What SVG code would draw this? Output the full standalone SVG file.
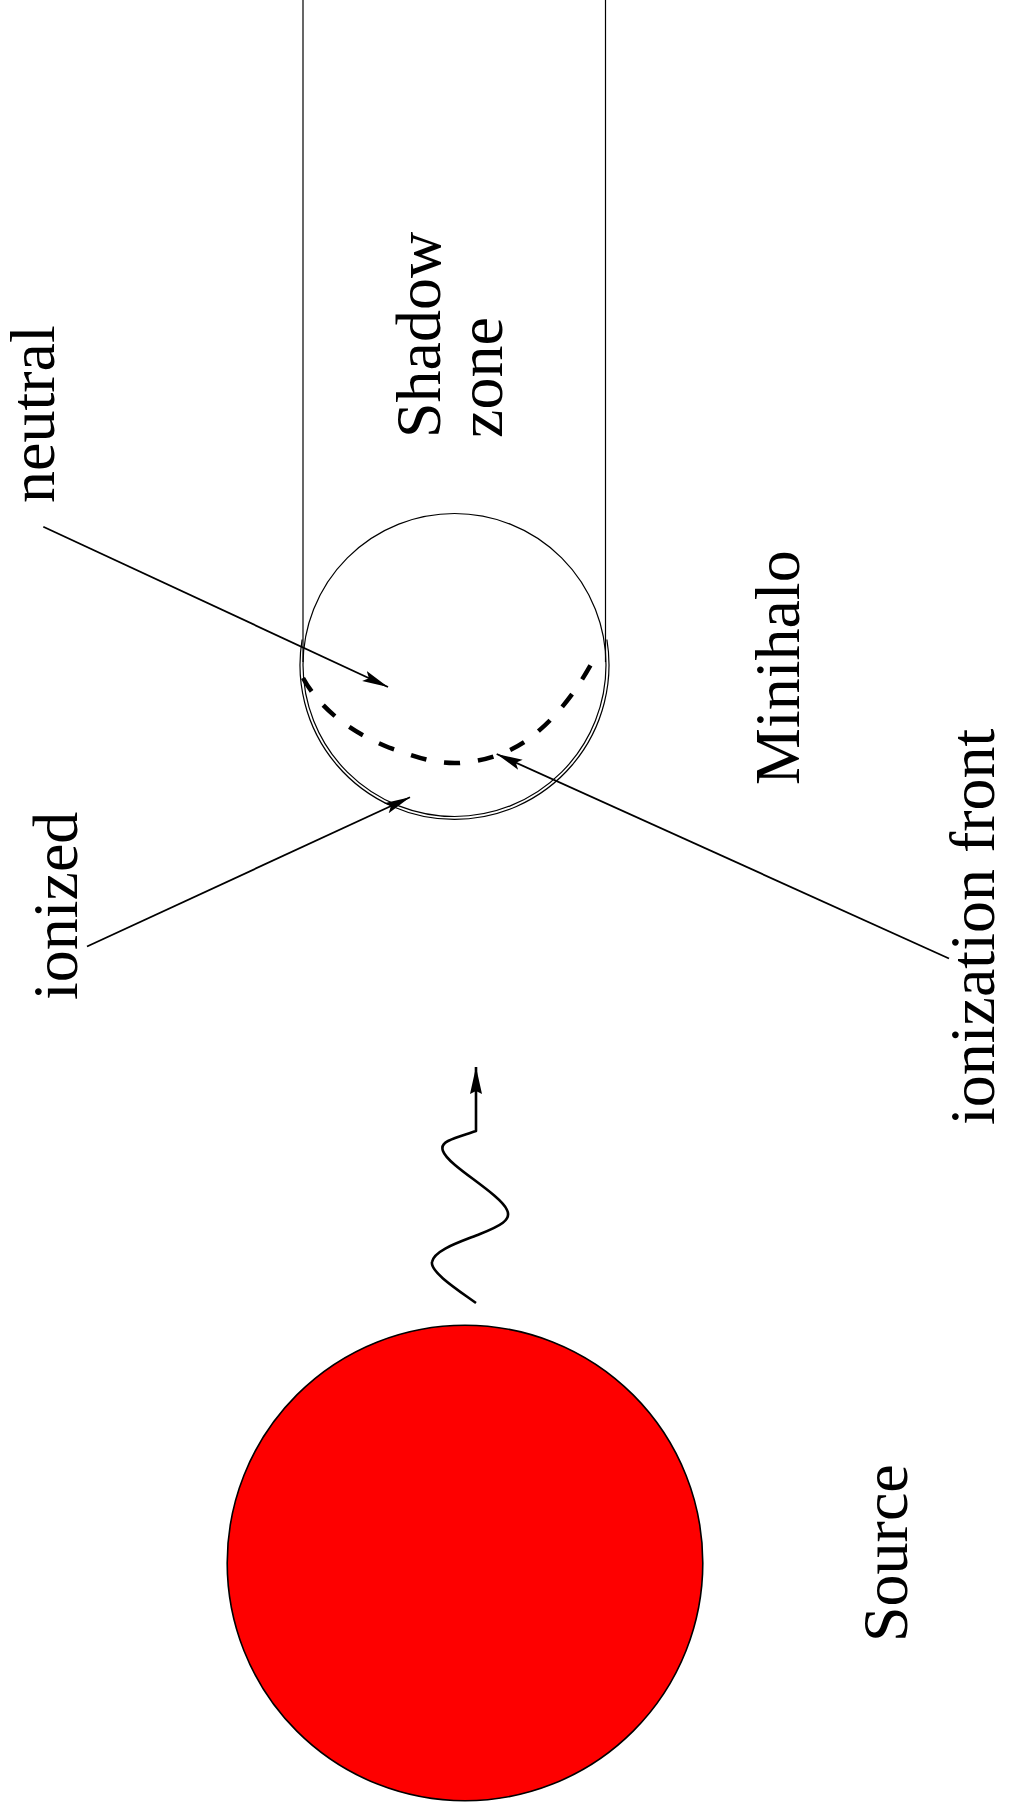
<svg xmlns="http://www.w3.org/2000/svg" width="1021" height="1813" viewBox="0 0 1021 1813">
  <style>
    .thin { fill: none; stroke: #000; stroke-width: 1.2; }
    .arr { fill: none; stroke: #000; stroke-width: 1.8; }
    text { font-family: 'Liberation Serif', 'Tinos', 'Times New Roman', Times, 'DejaVu Serif', serif; font-size: 64px; fill: #000; }
  </style>
  <defs>
    <marker id="ah" markerUnits="userSpaceOnUse" markerWidth="30" markerHeight="14" refX="26" refY="7" orient="auto">
      <path d="M0,1.5 L26,7 L0,12.5 L5,7 z" fill="#000"/>
    </marker>
    <marker id="ahw" markerUnits="userSpaceOnUse" markerWidth="30" markerHeight="16" refX="27" refY="8" orient="auto">
      <path d="M0,2 L27,8 L0,14 L3,8 z" fill="#000"/>
    </marker>
  </defs>
  <rect width="1021" height="1813" fill="#fff"/>

  <g id="shadow-zone">
    <line class="thin" x1="303" y1="0" x2="303" y2="662"/>
    <line class="thin" x1="605.5" y1="0" x2="605.5" y2="662"/>
  </g>

  <g id="minihalo">
    <circle class="thin" cx="454.5" cy="665" r="151.5"/>
    <path class="thin" d="M302.1,639.5 A154.5,154.5 0 1 0 606.9,639.5"/>
    <path d="M303,678 C318,705 345,730 390,748 C420,758 435,764 460,763 C485,761 510,753 530,738 C560,715 580,685 594,659" fill="none" stroke="#000" stroke-width="4.5" stroke-dasharray="16 18"/>
  </g>

  <g id="source">
    <circle cx="465" cy="1563" r="237.8" fill="#fe0000" stroke="#000" stroke-width="1.6"/>
  </g>

  <g id="connectors">
    <line class="arr" x1="43.3" y1="526.7" x2="388" y2="687" marker-end="url(#ah)"/>
    <line class="arr" x1="87" y1="946.5" x2="410" y2="797.3" marker-end="url(#ah)"/>
    <line class="arr" x1="949" y1="958.5" x2="496.7" y2="754" marker-end="url(#ah)"/>
    <path d="M476,1303 C458,1290 430,1272 432,1262 C434,1250 460,1242 480,1234 C500,1226 512,1220 507,1210 C502,1198 470,1178 455,1165 C442,1154 438,1146 448,1141 C456,1137 468,1134 476,1131 L476,1067" fill="none" stroke="#000" stroke-width="2.6" stroke-linejoin="round" marker-end="url(#ahw)"/>
  </g>

  <g id="labels">
    <text transform="translate(54,503) rotate(-90)">neutral</text>
    <text transform="translate(440,438) rotate(-90)">Shadow</text>
    <text transform="translate(502,438) rotate(-90)">zone</text>
    <text transform="translate(799,785) rotate(-90)">Minihalo</text>
    <text transform="translate(77,1000) rotate(-90)">ionized</text>
    <text transform="translate(994,1125) rotate(-90)">ionization front</text>
    <text transform="translate(907,1642) rotate(-90)">Source</text>
  </g>
</svg>
